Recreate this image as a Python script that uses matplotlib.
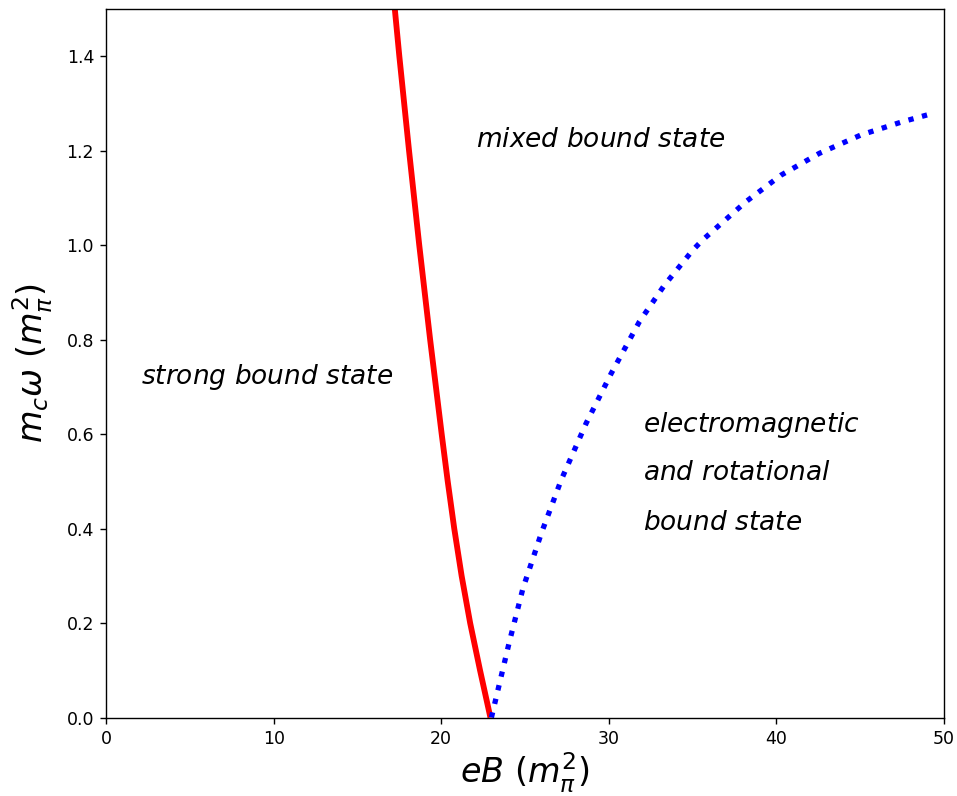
import matplotlib
matplotlib.use("Agg")
from matplotlib import pyplot as plt

# boundary between strong and mixed bound state
red_eB = [17.23, 17.50, 18.08, 18.69, 19.34, 20.03, 20.39, 20.78, 21.22, 21.73,
          22.32, 22.94]
red_w = [1.50, 1.40, 1.20, 1.00, 0.80, 0.60, 0.50, 0.40, 0.30, 0.20,
         0.10, 0.0]

# boundary between mixed and electromagnetic/rotational bound state
blue_eB = [23.0, 24.05, 24.88, 25.98, 27.17, 28.66, 30.15, 31.84, 33.33, 35.02,
           35.62, 38.21, 40.30, 42.58, 45.07, 47.55, 49.5]
blue_w = [0.0, 0.157, 0.273, 0.390, 0.503, 0.623, 0.728, 0.838, 0.915, 0.989,
          1.011, 1.092, 1.148, 1.194, 1.233, 1.261, 1.28]

em_lines = ["electromagnetic", "and rotational", "bound state"]
em_y = [0.619, 0.517, 0.412]

fig = plt.figure(figsize=(9.57, 7.96), dpi=100)
ax1 = fig.add_axes([0.111, 0.0986, 0.875, 0.8904])

ax1.plot(red_eB, red_w, c='r', lw=4.2, solid_capstyle='butt')
ax1.plot(blue_eB, blue_w, c='b', lw=3.8, ls=':')

ax1.set_xlim(0, 50)
ax1.set_ylim(0, 1.5)
ax1.set_xlabel(r'$eB\ (m_\pi^2)$', fontsize=24, labelpad=2)
ax1.set_ylabel(r'$m_c\omega\ (m_\pi^2)$', fontsize=24, labelpad=8)
ax1.tick_params(labelsize=12.5, length=4.4, width=1.0, pad=4.4)
for sp in ax1.spines.values():
    sp.set_linewidth(1.0)

ax1.text(22.1, 1.222, r'$\it{mixed\ bound\ state}$', fontsize=19, va='center')
ax1.text(2.08, 0.72, r'$\it{strong\ bound\ state}$', fontsize=19, va='center')
for s, y in zip(em_lines, em_y):
    ax1.text(32.07, y, r'$\it{%s}$' % s.replace(' ', r'\ '), fontsize=19, va='center')

fig.savefig("out.png", dpi=100)
